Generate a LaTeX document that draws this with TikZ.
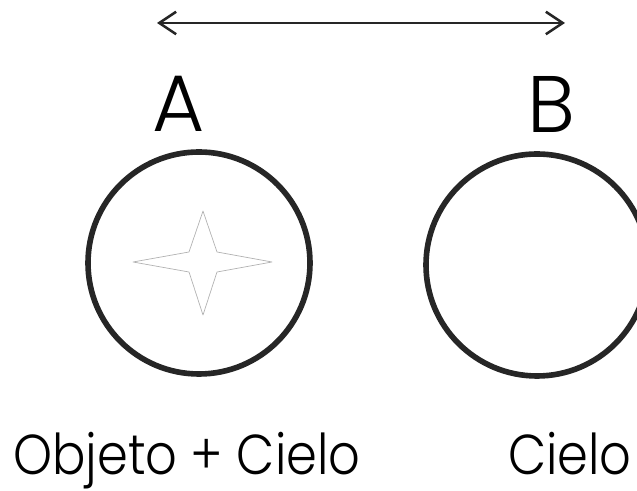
\documentclass[tikz,border=0pt]{standalone}
\usepackage{fontspec}
\setmainfont{Poppins Light}
\newfontfamily\captionfont{Poppins Light}[FakeStretch=0.88]
\usetikzlibrary{positioning, arrows.meta}

\begin{document}
\begin{tikzpicture}[x=0.025cm, y=0.025cm,
        ring/.style={line width=4pt, black!85},
        bigletter/.style={font=\fontsize{57}{60}\selectfont, inner sep=0pt},
        caption/.style={font=\captionfont\fontsize{40}{44}\selectfont, inner sep=0pt}]
        % Define circle parameters
        \def\radius{111}

        \useasboundingbox (0,0) rectangle (637,491);

        % Draw the circles
        \draw[ring] (199,228) circle (\radius);
        \draw[ring] (537,226) circle (\radius);

        % Star inside circle A
        \draw[gray!60, line width=0.5pt, line join=round]
            (203,280) -- (217,239) -- (272,229) -- (217,219) -- (203,176)
            -- (189,219) -- (133,229) -- (189,239) -- cycle;

        % Labels above the circles
        \node[bigletter, anchor=base] (labelA) at (179,359) {A};
        \node[bigletter, anchor=base] (labelB) at (551,358) {B};

        % Double arrow over the labels
        \coordinate (leftend) at (157,468);
        \coordinate (rightend) at (565,468);
        \draw[line width=1.8pt, black!85, {Straight Barb[length=12pt, width=16pt]}-{Straight Barb[length=12pt, width=16pt]}] (leftend) -- (rightend);

        % Captions under the circles
        \node[caption, anchor=base west] (capA) at (13,16) {Objeto + Cielo};
        \node[caption, anchor=base east] (capB) at (632,16) {Cielo};
    \end{tikzpicture}
\end{document}
